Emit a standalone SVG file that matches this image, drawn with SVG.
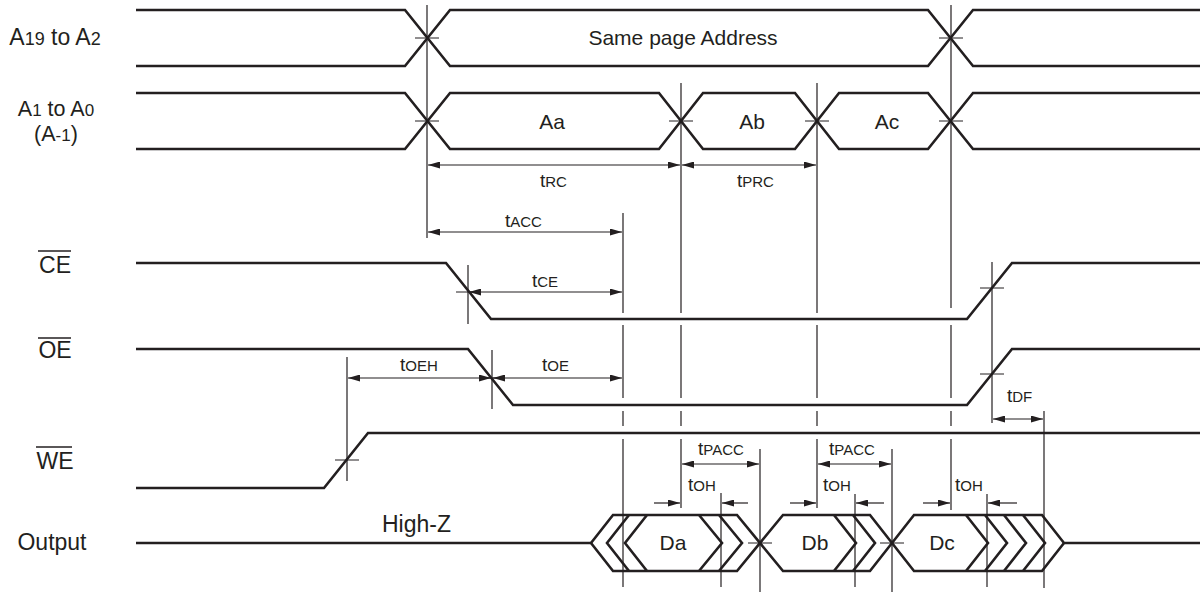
<svg xmlns="http://www.w3.org/2000/svg" width="1204" height="592" viewBox="0 0 1204 592">
<style>
.sig{fill:none;stroke:#231f20;stroke-width:2.6;stroke-linejoin:miter}
.v{fill:none;stroke:#231f20;stroke-width:1.2}
.tick{fill:none;stroke:#231f20;stroke-width:1}
.arr{fill:none;stroke:#231f20;stroke-width:1.2}
.lbl{font-family:"Liberation Sans",Arial,sans-serif;font-size:23px;fill:#231f20}
.lbl2{font-family:"Liberation Sans",Arial,sans-serif;font-size:21.5px;fill:#231f20}
.in{font-family:"Liberation Sans",Arial,sans-serif;font-size:21px;fill:#231f20}
.tm{font-family:"Liberation Sans",Arial,sans-serif;font-size:19px;fill:#231f20}
.sub{font-size:15px}
.dsub{font-size:18px}
.dsub2{font-size:17px}
.ol{stroke:#231f20;stroke-width:1.6}
</style>
<defs>
<marker id="ah" viewBox="0 0 12 7" refX="12" refY="3.5" markerWidth="12" markerHeight="7" markerUnits="userSpaceOnUse" orient="auto-start-reverse">
<path d="M0,0 L12,3.5 L0,7 z" fill="#231f20"/>
</marker>
</defs>
<rect width="1204" height="592" fill="#ffffff"/>

<g id="addr-high">
<text class="lbl" x="55" y="45" text-anchor="middle">A<tspan class="dsub">19</tspan> to A<tspan class="dsub">2</tspan></text>
<path class="sig" d="M136,10 H405 L450,66 H928 L973,10 H1200"/>
<path class="sig" d="M136,66 H405 L450,10 H928 L973,66 H1200"/>
<text class="in" x="683" y="45" text-anchor="middle">Same page Address</text>
</g>

<g id="addr-low">
<text class="lbl2" x="56" y="116" text-anchor="middle">A<tspan class="dsub2">1</tspan> to A<tspan class="dsub2">0</tspan></text>
<text class="lbl2" x="56" y="140.5" text-anchor="middle">(A<tspan class="dsub2">-1</tspan>)</text>
<path class="sig" d="M136,93 H405 L450,149 H659 L703,93 H795 L839,149 H928 L973,93 H1200"/>
<path class="sig" d="M136,149 H405 L450,93 H659 L703,149 H795 L839,93 H928 L973,149 H1200"/>
<text class="in" x="552" y="129" text-anchor="middle">Aa</text>
<text class="in" x="752" y="129" text-anchor="middle">Ab</text>
<text class="in" x="887" y="129" text-anchor="middle">Ac</text>
</g>

<g id="ce">
<text class="lbl" x="55" y="273" text-anchor="middle">CE</text>
<line class="ol" x1="38" y1="251" x2="71" y2="251"/>
<path class="sig" d="M136,263 H446 L491,319 H967 L1012,263 H1200"/>
</g>

<g id="oe">
<text class="lbl" x="55" y="358" text-anchor="middle">OE</text>
<line class="ol" x1="38" y1="338" x2="71" y2="338"/>
<path class="sig" d="M136,349 H468 L513,405 H967 L1012,349 H1200"/>
</g>

<g id="we">
<text class="lbl" x="55" y="469" text-anchor="middle">WE</text>
<line class="ol" x1="36" y1="447" x2="72" y2="447"/>
<path class="sig" d="M136,488 H324 L368,433 H1200"/>
</g>

<g id="output">
<text class="lbl" x="52" y="550" text-anchor="middle">Output</text>
<text class="lbl" x="382" y="532">High-Z</text>
<path class="sig" d="M136,543 H591"/>
<path class="sig" d="M591,543 L613,515 H737 L783,571 H870 L914,515 H1042 L1064,543 H1200"/>
<path class="sig" d="M591,543 L613,571 H737 L783,515 H870 L914,571 H1042 L1064,543"/>
<path class="sig" d="M629,515 L607,543 L629,571 M647,515 L625,543 L647,571"/>
<path class="sig" d="M699,515 L722,543 L699,571 M719,515 L742,543 L719,571"/>
<path class="sig" d="M834,515 L856,543 L834,571 M853,515 L875,543 L853,571"/>
<path class="sig" d="M966,515 L988,543 L966,571 M985,515 L1007,543 L985,571 M1004,515 L1026,543 L1004,571 M1023,515 L1045,543 L1023,571"/>
<text class="in" x="673" y="550" text-anchor="middle">Da</text>
<text class="in" x="815" y="550" text-anchor="middle">Db</text>
<text class="in" x="942" y="550" text-anchor="middle">Dc</text>
</g>

<g id="connectors">
<path class="v" d="M427,5 V238"/>
<path class="v" d="M951,5 V308 M951,325 V398 M951,411 V426 M951,439 V510"/>
<path class="v" d="M681,83 V313 M681,325 V398 M681,411 V426 M681,439 V508"/>
<path class="v" d="M817,83 V313 M817,325 V398 M817,411 V426 M817,439 V508"/>
<path class="v" d="M623,213 V313 M623,325 V398 M623,411 V426 M623,439 V587"/>
<path class="v" d="M468,265 V324"/>
<path class="v" d="M492,350 V409"/>
<path class="v" d="M347,357 V481"/>
<path class="v" d="M992,262 V423"/>
<path class="v" d="M1044,411 V588"/>
<path class="v" d="M721,493 V587"/>
<path class="v" d="M855,494 V587"/>
<path class="v" d="M987,494 V587"/>
<path class="v" d="M760,449 V592"/>
<path class="v" d="M892,449 V592"/>
<path class="tick" d="M415,38 H439 M939,38 H963 M415,121 H439 M669,121 H693 M805,121 H829 M939,121 H963 M456,292 H480 M480,378 H504 M980,288 H1004 M980,374 H1004 M335,460 H359 M748,543 H772 M880,543 H904"/>
<line class="arr" x1="428" y1="165" x2="680" y2="165" marker-start="url(#ah)" marker-end="url(#ah)"/>
<line class="arr" x1="682" y1="165" x2="816" y2="165" marker-start="url(#ah)" marker-end="url(#ah)"/>
<line class="arr" x1="428" y1="232" x2="622" y2="232" marker-start="url(#ah)" marker-end="url(#ah)"/>
<line class="arr" x1="469" y1="292" x2="622" y2="292" marker-start="url(#ah)" marker-end="url(#ah)"/>
<line class="arr" x1="348" y1="378" x2="491" y2="378" marker-start="url(#ah)" marker-end="url(#ah)"/>
<line class="arr" x1="493" y1="378" x2="622" y2="378" marker-start="url(#ah)" marker-end="url(#ah)"/>
<line class="arr" x1="993" y1="419" x2="1043" y2="419" marker-start="url(#ah)" marker-end="url(#ah)"/>
<line class="arr" x1="682" y1="464" x2="759" y2="464" marker-start="url(#ah)" marker-end="url(#ah)"/>
<line class="arr" x1="818" y1="464" x2="891" y2="464" marker-start="url(#ah)" marker-end="url(#ah)"/>
<line class="arr" x1="654" y1="503" x2="680" y2="503" marker-end="url(#ah)"/>
<line class="arr" x1="748" y1="503" x2="722" y2="503" marker-end="url(#ah)"/>
<line class="arr" x1="790" y1="503" x2="816" y2="503" marker-end="url(#ah)"/>
<line class="arr" x1="884" y1="503" x2="856" y2="503" marker-end="url(#ah)"/>
<line class="arr" x1="923" y1="503" x2="950" y2="503" marker-end="url(#ah)"/>
<line class="arr" x1="1017" y1="503" x2="988" y2="503" marker-end="url(#ah)"/>
<text class="tm" x="540" y="187">t<tspan class="sub">RC</tspan></text>
<text class="tm" x="737" y="187">t<tspan class="sub">PRC</tspan></text>
<text class="tm" x="505" y="227">t<tspan class="sub">ACC</tspan></text>
<text class="tm" x="532" y="287">t<tspan class="sub">CE</tspan></text>
<text class="tm" x="400" y="371">t<tspan class="sub">OEH</tspan></text>
<text class="tm" x="542" y="371">t<tspan class="sub">OE</tspan></text>
<text class="tm" x="1007" y="402">t<tspan class="sub">DF</tspan></text>
<text class="tm" x="698" y="455">t<tspan class="sub">PACC</tspan></text>
<text class="tm" x="829" y="455">t<tspan class="sub">PACC</tspan></text>
<text class="tm" x="688" y="491">t<tspan class="sub">OH</tspan></text>
<text class="tm" x="823" y="491">t<tspan class="sub">OH</tspan></text>
<text class="tm" x="955" y="491">t<tspan class="sub">OH</tspan></text>
</g>
</svg>
